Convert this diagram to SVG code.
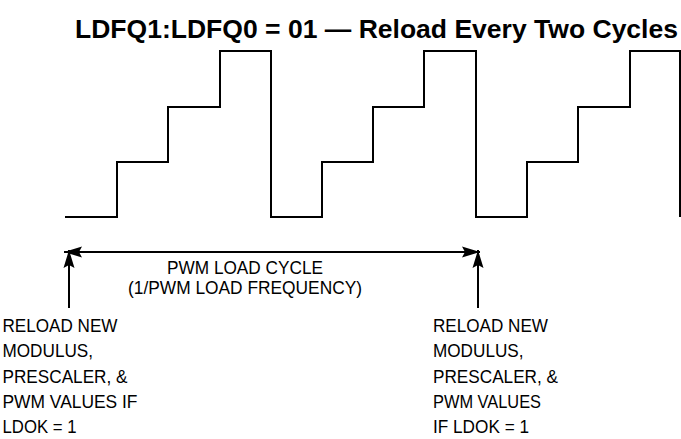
<svg xmlns="http://www.w3.org/2000/svg" width="681" height="439" viewBox="0 0 681 439">
<style>
.t{font-family:"Liberation Sans",Arial,Helvetica,sans-serif;font-size:19px;fill:#000}
.title{font-family:"Liberation Sans",Arial,Helvetica,sans-serif;font-size:25px;font-weight:bold;fill:#000}
.w{fill:none;stroke:#000;stroke-width:2}
.c{fill:none;stroke:#000;stroke-width:2}
</style>
<defs>
<marker id="ah" markerUnits="userSpaceOnUse" markerWidth="20" markerHeight="12" viewBox="0 -6 20 12" refX="18" refY="0" orient="auto-start-reverse">
<path d="M0,-5.5 L18,0 L0,5.5 L3,0 z" fill="#000"/>
</marker>
</defs>
<rect width="681" height="439" fill="#fff"/>
<text class="title" x="75" y="37.5" textLength="603" lengthAdjust="spacingAndGlyphs">LDFQ1:LDFQ0 = 01 — Reload Every Two Cycles</text>
<g id="waveform">
<path class="w" d="M65,217 H117 V162 H168 V107 H220 V51 H271 V217 H322 V162 H373 V107 H424 V51 H476 V217 H527 V162 H578 V107 H630 V51 H680 V217"/>
</g>
<g id="connectors">
<line class="c" x1="64" y1="252" x2="480" y2="252" marker-start="url(#ah)" marker-end="url(#ah)"/>
<line class="c" x1="69" y1="308" x2="69" y2="250" marker-end="url(#ah)"/>
<line class="c" x1="478" y1="308" x2="478" y2="250" marker-end="url(#ah)"/>
</g>
<g id="cycle-label">
<text class="t" x="245" y="274" text-anchor="middle" textLength="156" lengthAdjust="spacingAndGlyphs">PWM LOAD CYCLE</text>
<text class="t" x="245" y="294" text-anchor="middle" textLength="234" lengthAdjust="spacingAndGlyphs">(1/PWM LOAD FREQUENCY)</text>
</g>
<g id="left-note">
<text class="t" x="2.5" y="332" textLength="115" lengthAdjust="spacingAndGlyphs">RELOAD NEW</text>
<text class="t" x="2.5" y="357.3" textLength="90.5" lengthAdjust="spacingAndGlyphs">MODULUS,</text>
<text class="t" x="2.5" y="382.5" textLength="125" lengthAdjust="spacingAndGlyphs">PRESCALER, &amp;</text>
<text class="t" x="2.5" y="407.8" textLength="135" lengthAdjust="spacingAndGlyphs">PWM VALUES IF</text>
<text class="t" x="2.5" y="433" textLength="74" lengthAdjust="spacingAndGlyphs">LDOK = 1</text>
</g>
<g id="right-note">
<text class="t" x="433" y="332" textLength="115" lengthAdjust="spacingAndGlyphs">RELOAD NEW</text>
<text class="t" x="433" y="357.3" textLength="90.5" lengthAdjust="spacingAndGlyphs">MODULUS,</text>
<text class="t" x="433" y="382.5" textLength="125" lengthAdjust="spacingAndGlyphs">PRESCALER, &amp;</text>
<text class="t" x="433" y="407.8" textLength="108" lengthAdjust="spacingAndGlyphs">PWM VALUES</text>
<text class="t" x="433" y="433" textLength="96" lengthAdjust="spacingAndGlyphs">IF LDOK = 1</text>
</g>
</svg>
